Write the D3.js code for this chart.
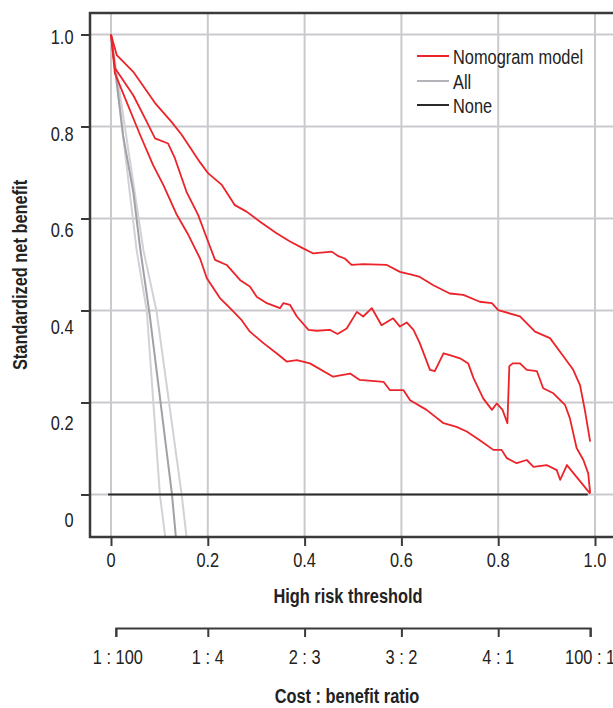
<!DOCTYPE html>
<html>
<head>
<meta charset="utf-8">
<script src="https://cdn.jsdelivr.net/npm/d3@7/dist/d3.min.js"></script>
<style>
  html, body { margin: 0; padding: 0; background: #ffffff; }
  svg { display: block; }
  text { font-family: "Liberation Sans", Arial, sans-serif; fill: #222; }
</style>
</head>
<body>
<svg id="chart" width="613" height="708"></svg>
<script>
// Decision curve: standardized net benefit against high risk threshold
const xTicks = [0, 0.2, 0.4, 0.6, 0.8, 1.0];
const xTickLabels = ["0", "0.2", "0.4", "0.6", "0.8", "1.0"];
const yTicks = [0, 0.2, 0.4, 0.6, 0.8, 1.0];
const yTickLabels = ["0", "0.2", "0.4", "0.6", "0.8", "1.0"];
const costThresholds = [0.01, 0.2, 0.4, 0.6, 0.8, 0.99];
const costLabels = ["1 : 100", "1 : 4", "2 : 3", "3 : 2", "4 : 1", "100 : 1"];

// Nomogram model: point estimate with upper and lower confidence bounds [threshold, net benefit]
const nomogramUpper = [
  [0, 1.0], [0.012, 0.955], [0.046, 0.919], [0.091, 0.851], [0.125, 0.810], [0.146, 0.782],
  [0.184, 0.722], [0.201, 0.698], [0.229, 0.673], [0.256, 0.629], [0.280, 0.615], [0.308, 0.593],
  [0.342, 0.568], [0.370, 0.550], [0.397, 0.535], [0.418, 0.524], [0.456, 0.528], [0.470, 0.518],
  [0.483, 0.513], [0.497, 0.499], [0.521, 0.501], [0.570, 0.499], [0.597, 0.484], [0.625, 0.477],
  [0.638, 0.473], [0.666, 0.455], [0.700, 0.437], [0.728, 0.434], [0.762, 0.419], [0.787, 0.416],
  [0.800, 0.401], [0.845, 0.387], [0.876, 0.354], [0.907, 0.340], [0.935, 0.300], [0.955, 0.271],
  [0.969, 0.238], [0.979, 0.184], [0.986, 0.140], [0.990, 0.115]
];
const nomogramEstimate = [
  [0, 1.0], [0.008, 0.927], [0.046, 0.868], [0.074, 0.810], [0.091, 0.774], [0.118, 0.763],
  [0.132, 0.731], [0.156, 0.658], [0.180, 0.608], [0.198, 0.557], [0.215, 0.510], [0.239, 0.499],
  [0.267, 0.466], [0.287, 0.452], [0.301, 0.430], [0.322, 0.416], [0.349, 0.405], [0.356, 0.416],
  [0.370, 0.412], [0.384, 0.387], [0.408, 0.358], [0.425, 0.356], [0.452, 0.358], [0.468, 0.349],
  [0.487, 0.361], [0.508, 0.397], [0.521, 0.387], [0.539, 0.405], [0.559, 0.368], [0.583, 0.383],
  [0.597, 0.365], [0.611, 0.374], [0.625, 0.358], [0.638, 0.329], [0.659, 0.271], [0.669, 0.268],
  [0.687, 0.307], [0.700, 0.303], [0.721, 0.296], [0.738, 0.285], [0.749, 0.253], [0.769, 0.209],
  [0.787, 0.184], [0.797, 0.198], [0.809, 0.184], [0.819, 0.155], [0.823, 0.279], [0.830, 0.285],
  [0.845, 0.285], [0.859, 0.271], [0.880, 0.268], [0.893, 0.231], [0.914, 0.220], [0.938, 0.195],
  [0.948, 0.166], [0.962, 0.101], [0.976, 0.075], [0.986, 0.046], [0.990, 0.003]
];
const nomogramLower = [
  [0, 1.0], [0.008, 0.916], [0.032, 0.854], [0.060, 0.782], [0.087, 0.716], [0.108, 0.673],
  [0.136, 0.608], [0.160, 0.564], [0.184, 0.513], [0.198, 0.470], [0.225, 0.427], [0.246, 0.405],
  [0.270, 0.379], [0.287, 0.354], [0.315, 0.329], [0.342, 0.307], [0.363, 0.289], [0.384, 0.292],
  [0.411, 0.285], [0.459, 0.256], [0.494, 0.263], [0.514, 0.249], [0.563, 0.245], [0.576, 0.227],
  [0.604, 0.227], [0.618, 0.205], [0.652, 0.184], [0.687, 0.155], [0.714, 0.147], [0.735, 0.137],
  [0.762, 0.118], [0.790, 0.097], [0.807, 0.097], [0.818, 0.079], [0.838, 0.068], [0.859, 0.075],
  [0.873, 0.060], [0.900, 0.064], [0.921, 0.053], [0.928, 0.032], [0.942, 0.064], [0.990, 0.002]
];

// Treat-all strategy with its bounds
const allEstimate = [[0, 1.0], [0.025, 0.780], [0.046, 0.658], [0.060, 0.537], [0.080, 0.390], [0.126, 0.0], [0.134, -0.092]];
const allLower = [[0, 1.0], [0.053, 0.531], [0.074, 0.399], [0.101, 0.0], [0.112, -0.092]];
const allUpper = [[0, 1.0], [0.067, 0.531], [0.094, 0.399], [0.146, 0.0], [0.156, -0.092]];

// Treat-none strategy
const noneLine = [[-0.006, 0], [0.985, 0]];

const legendNames = ["Nomogram model", "All", "None"];
const legendColors = ["#ec2329", "#b4b4b8", "#2a2a2a"];

const svg = d3.select("#chart");
svg.append("rect").attr("width", 613).attr("height", 708).attr("fill", "#fff");

// narrow lettering: regular face squeezed horizontally
const squeeze = 0.78;
function label(parent, px, py, str, size, anchor, bold, rotate) {
  const rot = rotate ? ` rotate(${rotate})` : "";
  return parent.append("text")
    .attr("transform", `translate(${px},${py})${rot} scale(${squeeze},1)`)
    .attr("dy", "0.35em")
    .attr("text-anchor", anchor)
    .attr("font-size", size)
    .attr("font-weight", bold ? "bold" : "normal")
    .text(str);
}

const frame = { left: 90, top: 13, bottom: 537, right: 640 };

const x = d3.scaleLinear().domain([0, 1]).range([111, 595]);
const y = d3.scaleLinear().domain([0, 1]).range([494.5, 34.5]);
// tick labels of the vertical axis sit on their own, slightly wider spacing
const yLabel = d3.scaleLinear().domain([0, 1]).range([519.3, 37]);

const gridColor = "#cacace";

// grid
const grid = svg.append("g");
grid.selectAll("line.v").data(xTicks).join("line")
  .attr("x1", d => x(d)).attr("x2", d => x(d))
  .attr("y1", frame.top).attr("y2", frame.bottom)
  .attr("stroke", gridColor).attr("stroke-width", 2);
grid.selectAll("line.h").data(yTicks).join("line")
  .attr("x1", frame.left).attr("x2", frame.right)
  .attr("y1", d => y(d)).attr("y2", d => y(d))
  .attr("stroke", gridColor).attr("stroke-width", 2);

svg.append("clipPath").attr("id", "plotClip")
  .append("rect").attr("x", frame.left).attr("y", frame.top)
  .attr("width", frame.right - frame.left).attr("height", frame.bottom - frame.top);

const plot = svg.append("g").attr("clip-path", "url(#plotClip)");
const line = d3.line().x(d => x(d[0])).y(d => y(d[1]));

// treat-all curves
plot.append("path").datum(allLower).attr("d", line)
  .attr("fill", "none").attr("stroke", "#d2d2d6").attr("stroke-width", 2);
plot.append("path").datum(allUpper).attr("d", line)
  .attr("fill", "none").attr("stroke", "#d2d2d6").attr("stroke-width", 2);
plot.append("path").datum(allEstimate).attr("d", line)
  .attr("fill", "none").attr("stroke", "#a0a0a6").attr("stroke-width", 2);

// treat-none line
plot.append("path").datum(noneLine).attr("d", line)
  .attr("fill", "none").attr("stroke", "#2a2a2a").attr("stroke-width", 2);

// nomogram curves
[nomogramUpper, nomogramEstimate, nomogramLower].forEach(series => {
  plot.append("path").datum(series).attr("d", line)
    .attr("fill", "none").attr("stroke", "#ec2329").attr("stroke-width", 1.8)
    .attr("stroke-linejoin", "round");
});

// frame
const axisColor = "#3a3a3a";
svg.append("line").attr("x1", frame.left - 1).attr("x2", frame.right)
  .attr("y1", frame.top).attr("y2", frame.top)
  .attr("stroke", axisColor).attr("stroke-width", 2.5);

// left axis
const yAxis = d3.axisLeft(y).tickValues(yTicks).tickFormat("").tickSizeInner(9).tickSizeOuter(0);
const gy = svg.append("g").attr("transform", `translate(${frame.left},0)`).call(yAxis);
gy.select(".domain").remove();
gy.selectAll(".tick line").attr("stroke", axisColor).attr("stroke-width", 2);
svg.append("line").attr("x1", frame.left).attr("x2", frame.left)
  .attr("y1", frame.top - 1).attr("y2", frame.bottom + 1)
  .attr("stroke", axisColor).attr("stroke-width", 2.5);
const gyLabels = svg.append("g");
yTicks.forEach((d, i) => label(gyLabels, 73.5, yLabel(d), yTickLabels[i], 21, "end"));

// bottom axis
const xAxis = d3.axisBottom(x).tickValues(xTicks).tickFormat("").tickSizeInner(9).tickSizeOuter(0);
const gx = svg.append("g").attr("transform", `translate(0,${frame.bottom})`).call(xAxis);
gx.select(".domain").remove();
gx.selectAll(".tick line").attr("stroke", axisColor).attr("stroke-width", 2);
svg.append("line").attr("x1", frame.left - 1).attr("x2", frame.right)
  .attr("y1", frame.bottom).attr("y2", frame.bottom)
  .attr("stroke", axisColor).attr("stroke-width", 2.5);
const gxLabels = svg.append("g");
xTicks.forEach((d, i) => label(gxLabels, x(d), 559.5, xTickLabels[i], 21, "middle"));

label(svg, 348, 596, "High risk threshold", 21, "middle", true);

// cost : benefit ratio axis
const xCost = x.copy().domain([0.01, 0.99]).range([x(0.01), x(0.99)]);
const costAxis = d3.axisBottom(xCost).tickValues(costThresholds)
  .tickFormat("").tickSizeInner(9).tickSizeOuter(9);
const gc = svg.append("g").attr("transform", "translate(0,628)").call(costAxis);
gc.select(".domain").attr("stroke", axisColor).attr("stroke-width", 2);
gc.selectAll(".tick line").attr("stroke", axisColor).attr("stroke-width", 2);
const gcLabels = svg.append("g");
costThresholds.forEach((d, i) => label(gcLabels, xCost(d) + (i === 0 ? 2 : 0), 656.5, costLabels[i], 21, "middle"));

label(svg, 347, 696, "Cost : benefit ratio", 21, "middle", true);

// y title
label(svg, 20, 275, "Standardized net benefit", 21, "middle", true, -90);

// legend
const legend = svg.append("g");
const legendRows = [57, 82, 106];
legendNames.forEach((name, i) => {
  legend.append("line")
    .attr("x1", 417).attr("x2", 449)
    .attr("y1", legendRows[i] - 1).attr("y2", legendRows[i] - 1)
    .attr("stroke", legendColors[i]).attr("stroke-width", 2);
  label(legend, 453, legendRows[i], name, 21, "start");
});
</script>
</body>
</html>
